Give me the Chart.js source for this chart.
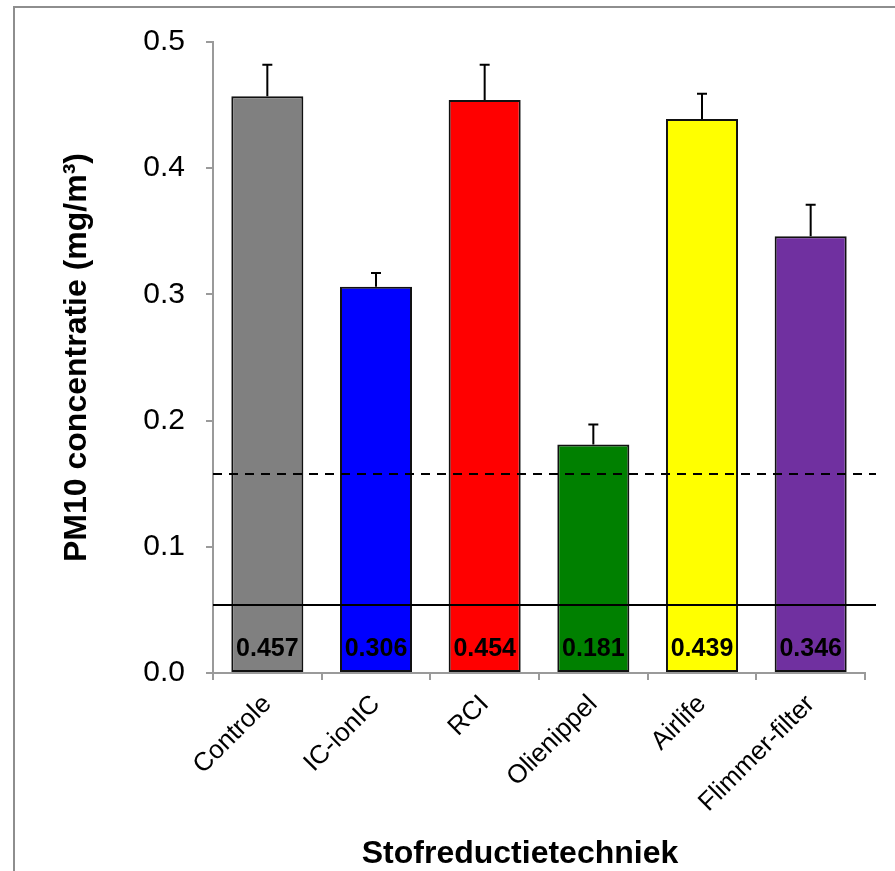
<!DOCTYPE html>
<html>
<head>
<meta charset="utf-8">
<script src="https://cdn.jsdelivr.net/npm/chart.js@4/dist/chart.umd.min.js"></script>
<style>
  html, body { margin: 0; padding: 0; background: #fff; overflow: hidden; }
  #wrap { position: relative; width: 895px; height: 871px; }
  #frame { position: absolute; left: 13px; top: 6px; width: 1000px; height: 1000px; border: 2px solid #8e8e8e; pointer-events: none; }
  canvas { position: absolute; left: 0; top: 0; }
</style>
</head>
<body>
<div id="wrap">
  <canvas id="c" width="895" height="871"></canvas>
  <div id="frame"></div>
</div>
<script>
// ---- data ----
const categories = ['Controle', 'IC-ionIC', 'RCI', 'Olienippel', 'Airlife', 'Flimmer-filter'];
const pm10Values = [0.457, 0.306, 0.454, 0.181, 0.439, 0.346];
const pm10Errors = [0.025, 0.011, 0.028, 0.016, 0.020, 0.025];
const valueLabels = ['0.457', '0.306', '0.454', '0.181', '0.439', '0.346'];
const barColors = ['#808080', '#0000FF', '#FF0000', '#008000', '#FFFF00', '#7030A0'];
const yTickLabels = ['0.0', '0.1', '0.2', '0.3', '0.4', '0.5'];
const dashedLineValue = 0.158;
const solidLineValue = 0.054;
const yTitle = 'PM10 concentratie (mg/m\u00B3)';
const xTitle = 'Stofreductietechniek';

const FONT = "'Liberation Sans', Arial, sans-serif";
Chart.defaults.font.family = FONT;
Chart.defaults.color = '#000';

const overlayPlugin = {
  id: 'overlay',
  afterDatasetsDraw(chart) {
    const ctx = chart.ctx;
    const y = chart.scales.y;
    const area = chart.chartArea;
    const meta = chart.getDatasetMeta(0);
    ctx.save();
    // error bars (plus direction only)
    ctx.strokeStyle = '#000';
    ctx.lineWidth = 2;
    meta.data.forEach((bar, i) => {
      const top = y.getPixelForValue(pm10Values[i] + pm10Errors[i]);
      const base = y.getPixelForValue(pm10Values[i]);
      ctx.beginPath();
      ctx.moveTo(bar.x, base);
      ctx.lineTo(bar.x, top);
      ctx.moveTo(bar.x - 5, top);
      ctx.lineTo(bar.x + 5, top);
      ctx.stroke();
    });
    // reference lines
    const xEnd = area.right + 11;
    ctx.lineWidth = 2;
    ctx.setLineDash([9, 7]);
    let yy = Math.round(y.getPixelForValue(dashedLineValue));
    ctx.beginPath(); ctx.moveTo(area.left, yy); ctx.lineTo(xEnd, yy); ctx.stroke();
    ctx.setLineDash([]);
    yy = Math.round(y.getPixelForValue(solidLineValue));
    ctx.beginPath(); ctx.moveTo(area.left, yy); ctx.lineTo(xEnd, yy); ctx.stroke();
    // value labels
    ctx.fillStyle = '#000';
    ctx.font = "bold 25px " + FONT;
    ctx.textAlign = 'center';
    ctx.textBaseline = 'middle';
    const y0 = y.getPixelForValue(0);
    meta.data.forEach((bar, i) => {
      ctx.fillText(valueLabels[i], bar.x, y0 - 24);
    });
    ctx.restore();
  },
  afterDraw(chart) {
    // x-axis title
    const ctx = chart.ctx;
    const area = chart.chartArea;
    ctx.save();
    ctx.fillStyle = '#000';
    ctx.font = "bold 32px " + FONT;
    ctx.textAlign = 'center';
    ctx.textBaseline = 'alphabetic';
    ctx.fillText(xTitle, (area.left + area.right) / 2 - 19, chart.height - 8);
    ctx.restore();
  }
};

new Chart(document.getElementById('c'), {
  type: 'bar',
  data: {
    labels: categories,
    datasets: [{
      data: pm10Values,
      backgroundColor: barColors,
      borderColor: '#111',
      borderWidth: 2,
      borderSkipped: false,
      barPercentage: 0.663,
      categoryPercentage: 1.0
    }]
  },
  options: {
    responsive: false,
    animation: false,
    devicePixelRatio: 1,
    layout: { padding: { top: 42, right: 30, left: 0, bottom: 0 } },
    plugins: { legend: { display: false }, tooltip: { enabled: false } },
    scales: {
      x: {
        type: 'category',
        offset: true,
        grid: { display: true, drawOnChartArea: false, drawTicks: true, tickLength: 7, color: '#9a9a9a', lineWidth: 2, offset: true },
        border: { display: true, color: '#9a9a9a', width: 2 },
        ticks: { minRotation: 45, maxRotation: 45, autoSkip: false, padding: 9, font: { size: 26 }, color: '#000' },
        afterFit(scale) { scale.height = 198; }
      },
      y: {
        min: 0, max: 0.5,
        grid: { display: true, drawOnChartArea: false, drawTicks: true, tickLength: 7, color: '#9a9a9a', lineWidth: 2 },
        border: { display: true, color: '#9a9a9a', width: 2 },
        ticks: { stepSize: 0.1, padding: 21, font: { size: 30 }, color: '#000',
                 callback: (v, i) => yTickLabels[i] },
        title: { display: true, text: yTitle, font: { size: 32, weight: 'bold' }, color: '#000', padding: { top: 58, bottom: 0 } },
        afterFit(scale) { scale.width = 213; }
      }
    }
  },
  plugins: [overlayPlugin]
});
</script>
</body>
</html>
